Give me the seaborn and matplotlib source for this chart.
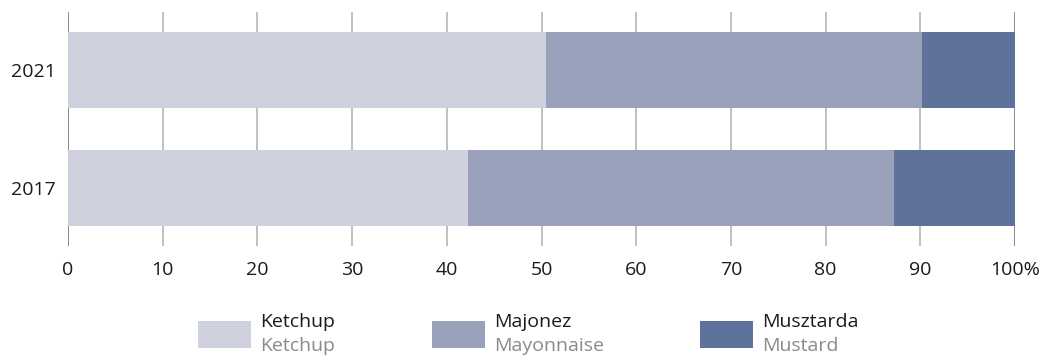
import matplotlib
matplotlib.use("Agg")
import matplotlib.pyplot as plt
import seaborn as sns
import pandas as pd
import numpy as np
from matplotlib.patches import Rectangle

years = ["2021", "2017"]
ketchup = [50.5, 42.2]
majonez = [39.7, 45.0]
musztarda = [9.8, 12.8]
series_pl = ["Ketchup", "Majonez", "Musztarda"]
series_en = ["Ketchup", "Mayonnaise", "Mustard"]
colors = ["#cfd2de", "#9aa2bb", "#5f729b"]
xticks = [0, 10, 20, 30, 40, 50, 60, 70, 80, 90, 100]
xticklabels = ["0", "10", "20", "30", "40", "50", "60", "70", "80", "90", "100%"]

sns.set_theme(style="white")
plt.rcParams["font.family"] = ["Open Sans", "DejaVu Sans"]

W, H = 1050, 355
fig = plt.figure(figsize=(10.5, 3.55), dpi=100)
ax = fig.add_axes([68 / W, 1 - 246 / H, (1015 - 68) / W, (246 - 12) / H])

k = np.array(ketchup)
m = np.array(majonez)
u = np.array(musztarda)
cum = [k + m + u, k + m, k]
for vals, c in zip(cum, colors[::-1]):
    df = pd.DataFrame({"year": years, "val": vals})
    sns.barplot(data=df, y="year", x="val", order=years, orient="h",
                color=c, saturation=1, width=0.64, ax=ax, zorder=3,
                linewidth=0, edgecolor=c)

ax.set_xlim(0, 100)
ax.set_ylim(1.49, -0.49)
ax.set_xticks(xticks)
ax.set_xticklabels(xticklabels)
ax.set_xlabel("")
ax.set_ylabel("")
for x in xticks:
    col = "#8a8a8a" if x in (0, 100) else "#c0c0c0"
    ax.axvline(x, color=col, lw=1.4, zorder=1)
for s in ax.spines.values():
    s.set_visible(False)
ax.tick_params(axis="both", length=0, labelsize=14, colors="#1a1a1a")
ax.tick_params(axis="x", pad=11)
ax.tick_params(axis="y", pad=9)

# legend
box_x = [198, 432, 700]
for bx, c, pl, en in zip(box_x, colors, series_pl, series_en):
    fig.add_artist(Rectangle((bx / W, 1 - 348 / H), 53 / W, 27 / H,
                             transform=fig.transFigure, facecolor=c, edgecolor="none"))
    fig.text((bx + 62) / W, 1 - 322 / H, pl, fontsize=14, color="#1a1a1a",
             va="center", ha="left")
    fig.text((bx + 62) / W, 1 - 346 / H, en, fontsize=14, color="#8a8a8a",
             va="center", ha="left")

fig.savefig("out.png", dpi=100)
